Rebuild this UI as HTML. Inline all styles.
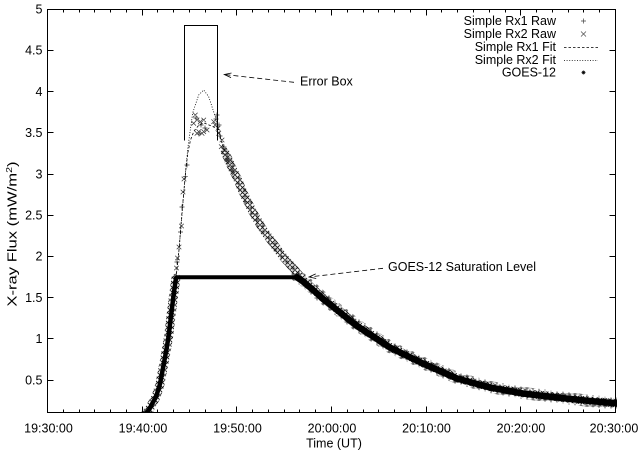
<!DOCTYPE html>
<html><head><meta charset="utf-8">
<style>
html,body{margin:0;padding:0;background:#fff;}
svg{display:block;}
text{font-family:"Liberation Sans",Arial,Helvetica,sans-serif;font-size:12.5px;fill:#000;}
</style></head><body>
<svg width="640" height="453" viewBox="0 0 640 453" xmlns="http://www.w3.org/2000/svg">
<defs>
<clipPath id="pc"><rect x="47" y="9" width="570" height="404"/></clipPath>
<pattern id="mk" x="0" y="0" width="5" height="5" patternUnits="userSpaceOnUse">
  <rect width="5" height="5" fill="#fff"/>
  <path d="M0.3 0.3l4.4 4.4M0.3 4.7l4.4-4.4" stroke="#111" stroke-width="0.9" fill="none"/>
</pattern>
<pattern id="mk2" x="2" y="1" width="6" height="6" patternUnits="userSpaceOnUse">
  <path d="M0.5 3h5M3 0.5v5" stroke="#222" stroke-width="0.8" fill="none"/>
</pattern>
</defs>
<rect width="640" height="453" fill="#fff"/>

<!-- textured data bands -->
<g clip-path="url(#pc)" fill="none" stroke-linejoin="round" stroke-linecap="round">
  <polyline stroke="url(#mk)" stroke-width="8.5" points="225,152 229,161 233,170 236.7,177 243.3,193 253.3,213 263.3,230 273.3,243.5 283.3,257 295,270 303,280 312,288 322,297 337,309 357,325 390,347 423,363 457,378 490,387 523,393 557,397 590,401 618,403.5"/>
  <polyline stroke="url(#mk2)" stroke-width="7" points="225,152 229,161 233,170 236.7,177 243.3,193 253.3,213 263.3,230 273.3,243.5 283.3,257 295,270"/>
  <polyline stroke="url(#mk2)" stroke-width="12" points="297,276 303,280 312,288 322,297 337,309 357,325 390,347 423,363 457,378 490,387 523,393 557,397 590,401 618,403.5"/>
  <polyline stroke="url(#mk)" stroke-width="9" points="146,413 149,410 152,404 156,397 160,384 163,368 166,352 168.5,337 171.5,312 174,292 176,278"/>
  <polyline stroke="#000" stroke-width="4.5" points="146,413 149,410 152,404 156,397 160,384 163,368 166,352 168.5,337 171.5,312 174,292 176,278"/>
  <line x1="176" y1="277.3" x2="297" y2="277.3" stroke="#000" stroke-width="4" stroke-linecap="butt"/>
  <polyline stroke="#000" stroke-width="6.5" points="297,277.3 303,281.5 312,289 322,298 337,310 357,326 390,347.5 423,363.5 457,378.5 490,387.5 523,393.5 557,397.5 590,401 618,403.5"/>
</g>

<!-- sparse raw markers -->
<g fill="none" stroke="#333" stroke-width="0.7">
<path d="M174.2 265.7l4.6 4.6m-4.6 0l4.6-4.6M175.2 255.7l4.6 4.6m-4.6 0l4.6-4.6M176.7 244.7l4.6 4.6m-4.6 0l4.6-4.6M179.2 223.7l4.6 4.6m-4.6 0l4.6-4.6M180.7 189.7l4.6 4.6m-4.6 0l4.6-4.6M181.7 176.7l4.6 4.6m-4.6 0l4.6-4.6"/>
<path d="M174.5 262h5m-2.5-2.5v5M178 232h5m-2.5-2.5v5M179.5 207h5m-2.5-2.5v5M182.8 176.7h5m-2.5-2.5v5M184.5 165h5m-2.5-2.5v5"/>
<path d="M193 112.7l4.6 4.6m-4.6 0l4.6-4.6M194.7 117.7l4.6 4.6m-4.6 0l4.6-4.6M191.4 121l4.6 4.6m-4.6 0l4.6-4.6M198 119.4l4.6 4.6m-4.6 0l4.6-4.6M201.4 117.7l4.6 4.6m-4.6 0l4.6-4.6M196.4 129.4l4.6 4.6m-4.6 0l4.6-4.6M201.4 129.4l4.6 4.6m-4.6 0l4.6-4.6M204.7 127.7l4.6 4.6m-4.6 0l4.6-4.6M199.7 131l4.6 4.6m-4.6 0l4.6-4.6M194.7 131l4.6 4.6m-4.6 0l4.6-4.6M211.4 119.4l4.6 4.6m-4.6 0l4.6-4.6M213 122.7l4.6 4.6m-4.6 0l4.6-4.6M215.7 126l4.6 4.6m-4.6 0l4.6-4.6M216.4 131l4.6 4.6m-4.6 0l4.6-4.6M219.7 137.7l4.6 4.6m-4.6 0l4.6-4.6M219 144.4l4.6 4.6m-4.6 0l4.6-4.6M221.4 147.7l4.6 4.6m-4.6 0l4.6-4.6M223 152.7l4.6 4.6m-4.6 0l4.6-4.6M224.7 157.7l4.6 4.6m-4.6 0l4.6-4.6M227 159.4l4.6 4.6m-4.6 0l4.6-4.6M229 166l4.6 4.6m-4.6 0l4.6-4.6M231.4 171l4.6 4.6m-4.6 0l4.6-4.6"/>
<path d="M193.5 118h5m-2.5-2.5v5M198.5 125h5m-2.5-2.5v5M202.5 128h5m-2.5-2.5v5M196.5 134h5m-2.5-2.5v5M214.5 115h5m-2.5-2.5v5M213.5 119h5m-2.5-2.5v5M216.5 125h5m-2.5-2.5v5M217.5 136h5m-2.5-2.5v5M221.5 147h5m-2.5-2.5v5M225.5 158h5m-2.5-2.5v5M229.5 170h5m-2.5-2.5v5"/>
</g>

<!-- fit lines -->
<g clip-path="url(#pc)" fill="none" stroke="#000" stroke-width="0.8">
  <polyline stroke-dasharray="1,1.6" points="176,278 179,250 182,215 184,190 186,166.7 188,146.7 190.3,130 192.7,113 195.3,105 198.7,95 203.7,90 208.7,96.7 212,106.7 215.3,116.7 218,127 221,139 225,151"/>
  <polyline stroke-dasharray="2.5,2" points="176,278 179,250 182,212 184,190 186,168 188,152 190.5,140 194,131 199,125 204,123 209,125 214,127 218,129 221,140 225,152"/>
</g>

<!-- error box -->
<path d="M184.5 140.5V25.5H217.5V140.5" fill="none" stroke="#000" stroke-width="1"/>

<!-- arrows -->
<g fill="none" stroke="#000" stroke-width="0.8">
  <line x1="294" y1="82.3" x2="224.3" y2="74.5" stroke-dasharray="5,3"/>
  <polyline points="231,77.6 224.3,74.5 231.5,73"/>
  <line x1="383" y1="268.3" x2="309" y2="277" stroke-dasharray="5,3"/>
  <polyline points="316.2,278.5 309,277 315.7,273.9"/>
</g>
<text x="300" y="85.7">Error Box</text>
<text x="388" y="271">GOES-12 Saturation Level</text>

<!-- frame -->
<rect x="47.5" y="9.5" width="568" height="403" fill="none" stroke="#000" stroke-width="1"/>
<!-- ticks -->
<path fill="none" stroke="#000" stroke-width="1" d="
M63.5 412.5v-3M63.5 9.5v3M79.5 412.5v-3M79.5 9.5v3M94.5 412.5v-3M94.5 9.5v3M110.5 412.5v-3M110.5 9.5v3M126.5 412.5v-3M126.5 9.5v3
M142.5 412.5v-6M142.5 9.5v6
M157.5 412.5v-3M157.5 9.5v3M173.5 412.5v-3M173.5 9.5v3M189.5 412.5v-3M189.5 9.5v3M205.5 412.5v-3M205.5 9.5v3M221.5 412.5v-3M221.5 9.5v3
M236.5 412.5v-6M236.5 9.5v6
M252.5 412.5v-3M252.5 9.5v3M268.5 412.5v-3M268.5 9.5v3M284.5 412.5v-3M284.5 9.5v3M299.5 412.5v-3M299.5 9.5v3M315.5 412.5v-3M315.5 9.5v3
M331.5 412.5v-6M331.5 9.5v6
M347.5 412.5v-3M347.5 9.5v3M363.5 412.5v-3M363.5 9.5v3M378.5 412.5v-3M378.5 9.5v3M394.5 412.5v-3M394.5 9.5v3M410.5 412.5v-3M410.5 9.5v3
M426.5 412.5v-6M426.5 9.5v6
M441.5 412.5v-3M441.5 9.5v3M457.5 412.5v-3M457.5 9.5v3M473.5 412.5v-3M473.5 9.5v3M489.5 412.5v-3M489.5 9.5v3M505.5 412.5v-3M505.5 9.5v3
M520.5 412.5v-6M520.5 9.5v6
M536.5 412.5v-3M536.5 9.5v3M552.5 412.5v-3M552.5 9.5v3M568.5 412.5v-3M568.5 9.5v3M583.5 412.5v-3M583.5 9.5v3M599.5 412.5v-3M599.5 9.5v3
M47.5 50.5h6M615.5 50.5h-6M47.5 91.5h6M615.5 91.5h-6M47.5 132.5h6M615.5 132.5h-6M47.5 174.5h6M615.5 174.5h-6
M47.5 215.5h6M615.5 215.5h-6M47.5 256.5h6M615.5 256.5h-6M47.5 297.5h6M615.5 297.5h-6M47.5 338.5h6M615.5 338.5h-6
M47.5 380.5h6M615.5 380.5h-6"/>

<!-- y tick labels -->
<g text-anchor="end">
<text x="42.5" y="13.5">5</text>
<text x="42.5" y="54.7">4.5</text>
<text x="42.5" y="95.9">4</text>
<text x="42.5" y="137.1">3.5</text>
<text x="42.5" y="178.3">3</text>
<text x="42.5" y="219.5">2.5</text>
<text x="42.5" y="260.7">2</text>
<text x="42.5" y="301.9">1.5</text>
<text x="42.5" y="343.1">1</text>
<text x="42.5" y="384.3">0.5</text>
</g>
<!-- x tick labels -->
<g text-anchor="middle">
<text x="48.5" y="432.7">19:30:00</text>
<text x="143" y="432.7">19:40:00</text>
<text x="237.5" y="432.7">19:50:00</text>
<text x="332" y="432.7">20:00:00</text>
<text x="426.5" y="432.7">20:10:00</text>
<text x="521" y="432.7">20:20:00</text>
<text x="614" y="432.7">20:30:00</text>
</g>
<text x="334" y="447.5" text-anchor="middle">Time (UT)</text>
<text transform="translate(16.5,234) rotate(-90) scale(1.33,1)" text-anchor="middle">X-ray Flux (mW/m<tspan font-size="8" dy="-4.5">2</tspan><tspan dy="4.5">)</tspan></text>

<!-- legend -->
<g text-anchor="end">
<text x="556" y="25">Simple Rx1 Raw</text>
<text x="556" y="38">Simple Rx2 Raw</text>
<text x="556" y="51">Simple Rx1 Fit</text>
<text x="556" y="63.8">Simple Rx2 Fit</text>
<text x="556" y="76.5">GOES-12</text>
</g>
<g fill="none" stroke="#444" stroke-width="0.7">
  <path d="M581 21h5M583.5 18.5v5"/>
  <path d="M581 31.5l5 5M581 36.5l5 -5"/>
  <line x1="564" y1="47.5" x2="598" y2="47.5" stroke="#000" stroke-dasharray="2.5,2"/>
  <line x1="564" y1="60.5" x2="598" y2="60.5" stroke="#000" stroke-dasharray="1,1.6"/>
  <path d="M581.5 72.5h4M583.5 70.5v4M582 71l3 3M582 74l3 -3" stroke="#000"/>
</g>
</svg>
</body></html>
